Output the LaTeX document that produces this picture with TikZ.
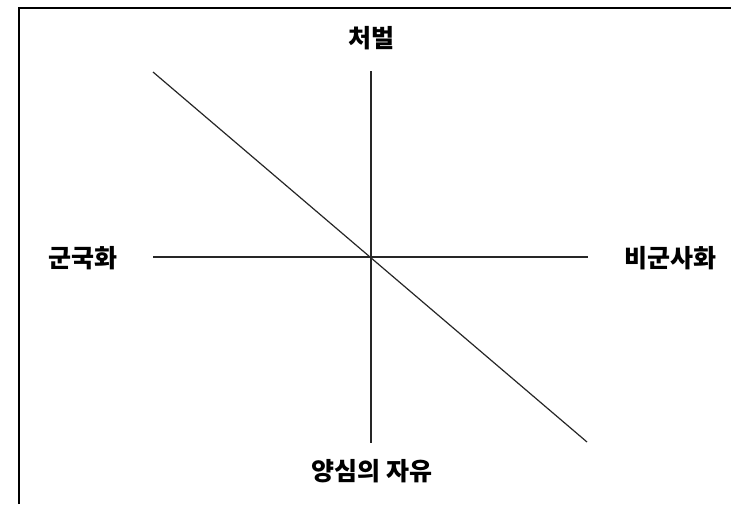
\documentclass[tikz,border=0pt]{standalone}
\usepackage{fontspec}
\newfontfamily\kr{Noto Sans CJK KR}[BoldFont={* Black}]
\begin{document}
\begin{tikzpicture}[x=1pt,y=-1pt,
  axis/.style={line width=1.2pt,black!85},
  lbl/.style={font=\kr\bfseries\fontsize{25}{27}\selectfont,inner sep=0pt}]
\useasboundingbox (0,0) rectangle (731,504);
\fill[white] (0,0) rectangle (731,504);
\draw[line width=1.6pt] (19,504) -- (19,8) -- (731,8);
\coordinate (top) at (371,71);
\coordinate (bot) at (371,443);
\coordinate (left) at (153,257);
\coordinate (right) at (588,257);
\coordinate (d1) at (153,72);
\coordinate (d2) at (587,442);
\draw[axis] (top) -- (bot);
\draw[axis] (left) -- (right);
\draw[axis] (d1) -- (d2);
\node[lbl] (n1) at (371,38) {처벌};
\node[lbl] (n2) at (372,471) {양심의 자유};
\node[lbl] (n3) at (83,258) {군국화};
\node[lbl] (n4) at (670,258) {비군사화};
\end{tikzpicture}
\end{document}
